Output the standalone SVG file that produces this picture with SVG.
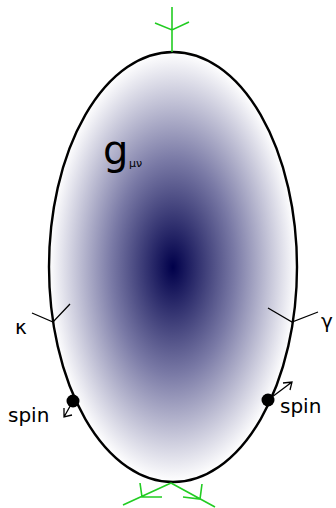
<svg xmlns="http://www.w3.org/2000/svg" width="336" height="508" viewBox="0 0 336 508">
<style>
.txt{font-family:"DejaVu Sans",sans-serif;fill:#000}
.gr{stroke:#22cc22;stroke-width:1.6;fill:none}
.bk{stroke:#000;stroke-width:1.3;fill:none}
</style>
<defs>
<radialGradient id="rg" cx="0.5" cy="0.5" r="0.5">
<stop offset="0" stop-color="#00004a"/>
<stop offset="0.5" stop-color="#7a7aa6"/>
<stop offset="1" stop-color="#ffffff"/>
</radialGradient>
</defs>
<g id="body">
<ellipse cx="173" cy="267" rx="124" ry="215" fill="url(#rg)" stroke="#000" stroke-width="2.4"/>
</g>
<g id="label-g">
<text class="txt" x="103" y="164" font-size="40">g</text>
<text class="txt" x="129" y="167" font-size="11">μν</text>
</g>
<g id="connectors">
<path class="gr" d="M172,7 V52 M155,23 L172,30 L189,22"/>
<path class="gr" d="M171,483 L123,505 M140,483 L142,497 L162,497"/>
<path class="gr" d="M171,483 L215,507 M202,484 L200,499 L183,497"/>
<path class="bk" d="M32,313 L53,322 L70,304"/>
<path class="bk" d="M268,308 L292,322 L318,312"/>
<path class="bk" d="M268,400 L292,382 M283,383 L292,382 L290,390"/>
<path class="bk" d="M73,401 L64,417 M64,408 L64,417 L72,415"/>
</g>
<g id="kappa"><text class="txt" x="15" y="334" font-size="20">κ</text></g>
<g id="gamma"><text class="txt" x="321" y="328" font-size="20">γ</text></g>
<g id="spin-left">
<circle cx="73" cy="401" r="6.5" fill="#000"/>
<text class="txt" x="8" y="422" font-size="20">spin</text>
</g>
<g id="spin-right">
<circle cx="268" cy="400" r="6.5" fill="#000"/>
<text class="txt" x="280" y="413" font-size="20">spin</text>
</g>
</svg>
